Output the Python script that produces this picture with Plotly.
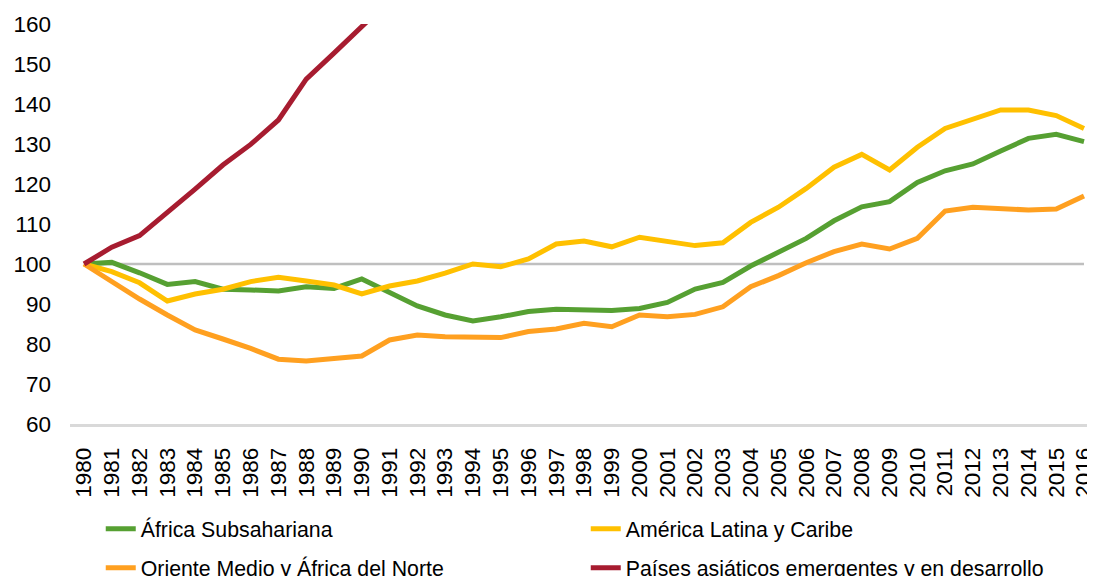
import plotly.graph_objects as go

years = [str(y) for y in range(1980, 2017)]

africa_sub = [100, 100.4, 97.8, 94.9, 95.6, 93.7, 93.5, 93.25, 94.3, 93.9, 96.25, 92.9,
              89.5, 87.25, 85.75, 86.8, 88.1, 88.7, 88.7, 88.4, 88.9, 90.4, 93.75, 95.4,
              99.5, 102.9, 106.4, 110.8, 114.3, 115.6, 120.4, 123.3, 125.0, 128.25, 131.4, 132.4, 130.6]

america_lat = [100, 98.1, 95.3, 90.75, 92.5, 93.7, 95.6, 96.7, 95.75, 94.75, 92.5, 94.5,
               95.75, 97.7, 100.0, 99.3, 101.25, 105.0, 105.75, 104.3, 106.7, 105.75, 104.6, 105.3,
               110.4, 114.2, 118.9, 124.2, 127.4, 123.5, 129.2, 133.9, 136.2, 138.5, 138.5, 137.1, 133.9]

oriente_medio = [100, 95.6, 91.25, 87.25, 83.5, 81.25, 78.9, 76.2, 75.75, 76.4, 77.0, 81.0,
                 82.25, 81.8, 81.6, 81.6, 83.1, 83.75, 85.2, 84.3, 87.25, 86.8, 87.4, 89.3,
                 94.3, 97.1, 100.3, 103.1, 105.0, 103.75, 106.4, 113.25, 114.2, 114.0, 113.5, 113.75, 117.0]

asia_emerg = [100, 104.2, 107.1, 112.7, 118.7, 124.75, 129.9, 136.0, 146.2, 152.7, 159.3, 166.0] + [None] * 25

base_line = [100] * 37

names = ["África Subsahariana", "América Latina y Caribe",
         "Oriente Medio y África del Norte", "Países asiáticos emergentes y en desarrollo"]
colors = ["#56A032", "#FFC000", "#FFA020", "#A71C30"]
series = [africa_sub, america_lat, oriente_medio, asia_emerg]
legends = ["legend", "legend", "legend2", "legend2"]

fig = go.Figure()
fig.add_trace(go.Scatter(x=years, y=base_line, mode="lines", showlegend=False,
                         line=dict(color="#BFBFBF", width=2.5), hoverinfo="skip"))
for n, c, s, lg in zip(names, colors, series, legends):
    fig.add_trace(go.Scatter(x=years, y=s, name=n, mode="lines", legend=lg,
                             line=dict(color=c, width=5), connectgaps=False))

font_family = "Liberation Sans, Arial, sans-serif"
tick_fs = 22.5
leg_fs = 21.3
fig.update_layout(
    width=1087, height=568,
    margin=dict(l=62, r=0, t=16, b=152, autoexpand=False),
    paper_bgcolor="white", plot_bgcolor="white",
    font=dict(family=font_family, size=leg_fs, color="#000000"),
    legend=dict(orientation="h", x=0.03, xanchor="left", y=-0.2625, yanchor="middle",
                entrywidth=440, font=dict(size=leg_fs), bgcolor="rgba(0,0,0,0)"),
    legend2=dict(orientation="h", x=0.03, xanchor="left", y=-0.36, yanchor="middle",
                 entrywidth=440, font=dict(size=leg_fs), bgcolor="rgba(0,0,0,0)"),
    xaxis=dict(type="category", tickangle=-90, showgrid=False, showline=True,
               linecolor="#D9D9D9", linewidth=2.5, ticks="", ticklabelstandoff=12,
               tickfont=dict(size=tick_fs), range=[-0.504, 36.396], zeroline=False,
               automargin=False),
    yaxis=dict(range=[60, 160], dtick=10, showgrid=False, showline=False, zeroline=False,
               ticks="", ticklabelstandoff=18, tickfont=dict(size=tick_fs), automargin=False),
)

fig.write_html("out.html")
